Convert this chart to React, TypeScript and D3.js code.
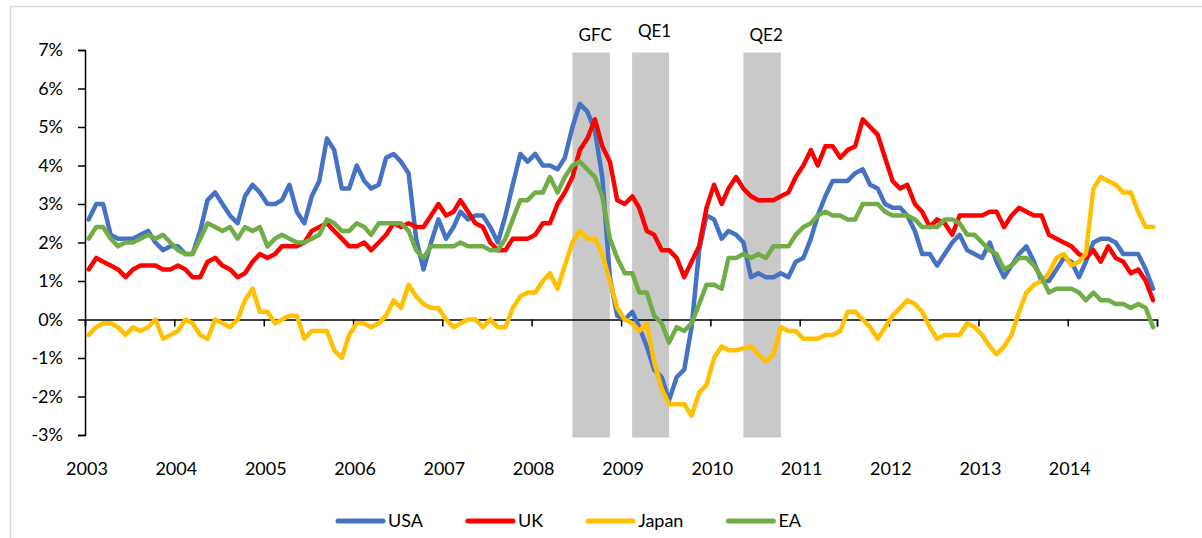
import { useEffect, useRef } from 'react';
import * as d3 from 'd3';

// monthly y/y inflation, Jan 2003 - Dec 2014
const usa = [
  2.6, 3.0, 3.0, 2.2, 2.1, 2.1, 2.1, 2.2, 2.3, 2.0, 1.8, 1.9,
  1.9, 1.7, 1.7, 2.3, 3.1, 3.3, 3.0, 2.7, 2.5, 3.2, 3.5, 3.3,
  3.0, 3.0, 3.1, 3.5, 2.8, 2.5, 3.2, 3.6, 4.7, 4.4, 3.4, 3.4,
  4.0, 3.6, 3.4, 3.5, 4.2, 4.3, 4.1, 3.8, 2.1, 1.3, 2.0, 2.6,
  2.1, 2.4, 2.8, 2.6, 2.7, 2.7, 2.4, 2.0, 2.7, 3.5, 4.3, 4.1,
  4.3, 4.0, 4.0, 3.9, 4.2, 5.0, 5.6, 5.4, 4.9, 3.7, 1.1, 0.1,
  0.0, 0.2, -0.2, -0.7, -1.3, -1.5, -2.1, -1.5, -1.3, -0.2, 1.8, 2.7,
  2.6, 2.1, 2.3, 2.2, 2.0, 1.1, 1.2, 1.1, 1.1, 1.2, 1.1, 1.5,
  1.6, 2.1, 2.7, 3.2, 3.6, 3.6, 3.6, 3.8, 3.9, 3.5, 3.4, 3.0,
  2.9, 2.9, 2.7, 2.3, 1.7, 1.7, 1.4, 1.7, 2.0, 2.2, 1.8, 1.7,
  1.6, 2.0, 1.5, 1.1, 1.4, 1.7, 1.9, 1.5, 1.0, 1.0, 1.3, 1.6,
  1.5, 1.1, 1.5, 2.0, 2.1, 2.1, 2.0, 1.7, 1.7, 1.7, 1.3, 0.8,
];

const uk = [
  1.3, 1.6, 1.5, 1.4, 1.3, 1.1, 1.3, 1.4, 1.4, 1.4, 1.3, 1.3,
  1.4, 1.3, 1.1, 1.1, 1.5, 1.6, 1.4, 1.3, 1.1, 1.2, 1.5, 1.7,
  1.6, 1.7, 1.9, 1.9, 1.9, 2.0, 2.3, 2.4, 2.5, 2.3, 2.1, 1.9,
  1.9, 2.0, 1.8, 2.0, 2.2, 2.5, 2.4, 2.5, 2.4, 2.4, 2.7, 3.0,
  2.7, 2.8, 3.1, 2.8, 2.5, 2.4, 2.0, 1.8, 1.8, 2.1, 2.1, 2.1,
  2.2, 2.5, 2.5, 3.0, 3.3, 3.7, 4.4, 4.7, 5.2, 4.5, 4.1, 3.1,
  3.0, 3.2, 2.9, 2.3, 2.2, 1.8, 1.8, 1.6, 1.1, 1.5, 1.9, 2.9,
  3.5, 3.0, 3.4, 3.7, 3.4, 3.2, 3.1, 3.1, 3.1, 3.2, 3.3, 3.7,
  4.0, 4.4, 4.0, 4.5, 4.5, 4.2, 4.4, 4.5, 5.2, 5.0, 4.8, 4.2,
  3.6, 3.4, 3.5, 3.0, 2.8, 2.4, 2.6, 2.5, 2.2, 2.7, 2.7, 2.7,
  2.7, 2.8, 2.8, 2.4, 2.7, 2.9, 2.8, 2.7, 2.7, 2.2, 2.1, 2.0,
  1.9, 1.7, 1.6, 1.8, 1.5, 1.9, 1.6, 1.5, 1.2, 1.3, 1.0, 0.5,
];

const japan = [
  -0.4, -0.2, -0.1, -0.1, -0.2, -0.4, -0.2, -0.3, -0.2, 0.0, -0.5, -0.4,
  -0.3, 0.0, -0.1, -0.4, -0.5, 0.0, -0.1, -0.2, 0.0, 0.5, 0.8, 0.2,
  0.2, -0.1, 0.0, 0.1, 0.1, -0.5, -0.3, -0.3, -0.3, -0.8, -1.0, -0.4,
  -0.1, -0.1, -0.2, -0.1, 0.1, 0.5, 0.3, 0.9, 0.6, 0.4, 0.3, 0.3,
  0.0, -0.2, -0.1, 0.0, 0.0, -0.2, 0.0, -0.2, -0.2, 0.3, 0.6, 0.7,
  0.7, 1.0, 1.2, 0.8, 1.4, 2.0, 2.3, 2.1, 2.1, 1.7, 1.0, 0.3,
  0.0, -0.1, -0.3, -0.1, -1.1, -1.8, -2.2, -2.2, -2.2, -2.5, -1.9, -1.7,
  -1.0, -0.7, -0.8, -0.8, -0.75, -0.7, -0.9, -1.1, -0.9, -0.2, -0.3, -0.3,
  -0.5, -0.5, -0.5, -0.4, -0.4, -0.3, 0.2, 0.2, 0.0, -0.2, -0.5, -0.2,
  0.1, 0.3, 0.5, 0.4, 0.2, -0.2, -0.5, -0.4, -0.4, -0.4, -0.1, -0.2,
  -0.4, -0.7, -0.9, -0.7, -0.4, 0.2, 0.7, 0.9, 1.0, 1.2, 1.6, 1.7,
  1.4, 1.5, 1.7, 3.4, 3.7, 3.6, 3.5, 3.3, 3.3, 2.8, 2.4, 2.4,
];

const ea = [
  2.1, 2.4, 2.4, 2.1, 1.9, 2.0, 2.0, 2.1, 2.2, 2.1, 2.2, 2.0,
  1.8, 1.7, 1.7, 2.1, 2.5, 2.4, 2.3, 2.4, 2.1, 2.4, 2.3, 2.4,
  1.9, 2.1, 2.2, 2.1, 2.0, 2.0, 2.1, 2.2, 2.6, 2.5, 2.3, 2.3,
  2.5, 2.4, 2.2, 2.5, 2.5, 2.5, 2.5, 2.3, 1.8, 1.6, 1.9, 1.9,
  1.9, 1.9, 2.0, 1.9, 1.9, 1.9, 1.8, 1.8, 2.1, 2.6, 3.1, 3.1,
  3.3, 3.3, 3.7, 3.3, 3.7, 4.0, 4.1, 3.9, 3.7, 3.2, 2.1, 1.6,
  1.2, 1.2, 0.7, 0.7, 0.1, -0.1, -0.6, -0.2, -0.3, -0.1, 0.4, 0.9,
  0.9, 0.8, 1.6, 1.6, 1.7, 1.6, 1.7, 1.6, 1.9, 1.9, 1.9, 2.2,
  2.4, 2.5, 2.7, 2.8, 2.7, 2.7, 2.6, 2.6, 3.0, 3.0, 3.0, 2.8,
  2.7, 2.7, 2.7, 2.6, 2.4, 2.4, 2.4, 2.6, 2.6, 2.5, 2.2, 2.2,
  2.0, 1.8, 1.7, 1.3, 1.4, 1.6, 1.6, 1.4, 1.1, 0.7, 0.8, 0.8,
  0.8, 0.7, 0.5, 0.7, 0.5, 0.5, 0.4, 0.4, 0.3, 0.4, 0.3, -0.2,
];

const years = d3.range(2003, 2015);
const yTicks = d3.range(-3, 8);

const seriesNames = ['USA', 'UK', 'Japan', 'EA'];
const seriesValues = [usa, uk, japan, ea];
const seriesColors = ['#4472C4', '#FF0000', '#FFC000', '#70AD47'];

// shaded policy episodes: [label, first month, last month]
const periodLabels = ['GFC', 'QE1', 'QE2'];
const periodStart = [new Date(2008, 5, 16), new Date(2009, 1, 15), new Date(2010, 4, 16)];
const periodEnd = [new Date(2008, 10, 16), new Date(2009, 6, 16), new Date(2010, 9, 16)];

const monthDate = (i) => new Date(2003, i, 16);

export default function App() {
  const svgRef = useRef(null);

  useEffect(() => {
    const width = 1202;
    const height = 538;
    const font = 'Lato, "Liberation Sans", sans-serif';

    const svg = d3.select(svgRef.current);
    svg.selectAll('*').remove();

    const x = d3.scaleTime()
      .domain([new Date(2003, 0, 1), new Date(2015, 0, 1)])
      .range([85, 1157]);

    const y = d3.scaleLinear()
      .domain([-3, 7])
      .range([435, 50]);

    // outer frame (only left and top edges show)
    svg.append('path')
      .attr('d', `M10.5,${height} V6.5 H${width}`)
      .attr('fill', 'none')
      .attr('stroke', '#d9d9d9')
      .attr('stroke-width', 1.5);

    // grey policy bars
    periodLabels.forEach((label, i) => {
      const x0 = x(periodStart[i]);
      const x1 = x(periodEnd[i]);
      svg.append('rect')
        .attr('x', x0)
        .attr('y', y(7) + 2.5)
        .attr('width', x1 - x0)
        .attr('height', y(-3) - y(7))
        .attr('fill', '#c9c9c9');

      svg.append('text')
        .attr('x', (x0 + x1) / 2 + 4)
        .attr('y', label === 'QE1' ? 37 : 41)
        .attr('text-anchor', 'middle')
        .attr('font-family', font)
        .attr('font-size', 17)
        .attr('fill', '#000')
        .text(label);
    });

    // y axis
    const yAxis = svg.append('g')
      .attr('transform', 'translate(85,0)')
      .call(d3.axisLeft(y).tickValues(yTicks).tickSize(7).tickSizeOuter(7).tickPadding(15).tickFormat(d => `${d}%`));
    yAxis.selectAll('path, line').attr('stroke', '#000').attr('stroke-width', 1.5);
    yAxis.selectAll('text')
      .attr('font-family', font)
      .attr('font-size', 18)
      .attr('fill', '#000');

    // x axis on the zero line, labels sit below the plot
    const xAxis = svg.append('g')
      .attr('transform', `translate(0,${y(0)})`)
      .call(d3.axisBottom(x).ticks(d3.timeYear.every(1)).tickSize(7).tickSizeOuter(7).tickFormat(() => ''));
    xAxis.selectAll('path, line').attr('stroke', '#000').attr('stroke-width', 1.5);

    svg.append('g')
      .selectAll('text')
      .data(years)
      .join('text')
      .attr('x', d => x(new Date(d, 0, 1)) + 2)
      .attr('y', 475)
      .attr('text-anchor', 'middle')
      .attr('font-family', font)
      .attr('font-size', 18)
      .attr('fill', '#000')
      .text(d => d);

    // series lines
    const line = d3.line()
      .x((d, i) => x(monthDate(i)))
      .y(d => y(d));

    seriesValues.forEach((values, i) => {
      svg.append('path')
        .datum(values)
        .attr('fill', 'none')
        .attr('stroke', seriesColors[i])
        .attr('stroke-width', 4.5)
        .attr('stroke-linejoin', 'round')
        .attr('stroke-linecap', 'round')
        .attr('d', line);
    });

    // legend
    const legend = svg.append('g').attr('transform', 'translate(336,521)');
    let cursor = 0;
    seriesNames.forEach((name, i) => {
      legend.append('line')
        .attr('x1', cursor + 2)
        .attr('x2', cursor + 47)
        .attr('stroke', seriesColors[i])
        .attr('stroke-width', 5)
        .attr('stroke-linecap', 'round');
      const t = legend.append('text')
        .attr('x', cursor + 52)
        .attr('dy', '0.35em')
        .attr('font-family', font)
        .attr('font-size', 18)
        .attr('fill', '#000')
        .text(name);
      const w = t.node().getComputedTextLength();
      cursor += 52 + w + 43;
    });
  }, []);

  return (
    <div style={{ position: 'absolute', left: 0, top: 0, width: 1202, height: 538, background: '#fff' }}>
      <svg ref={svgRef} width={1202} height={538} viewBox="0 0 1202 538" />
    </div>
  );
}
